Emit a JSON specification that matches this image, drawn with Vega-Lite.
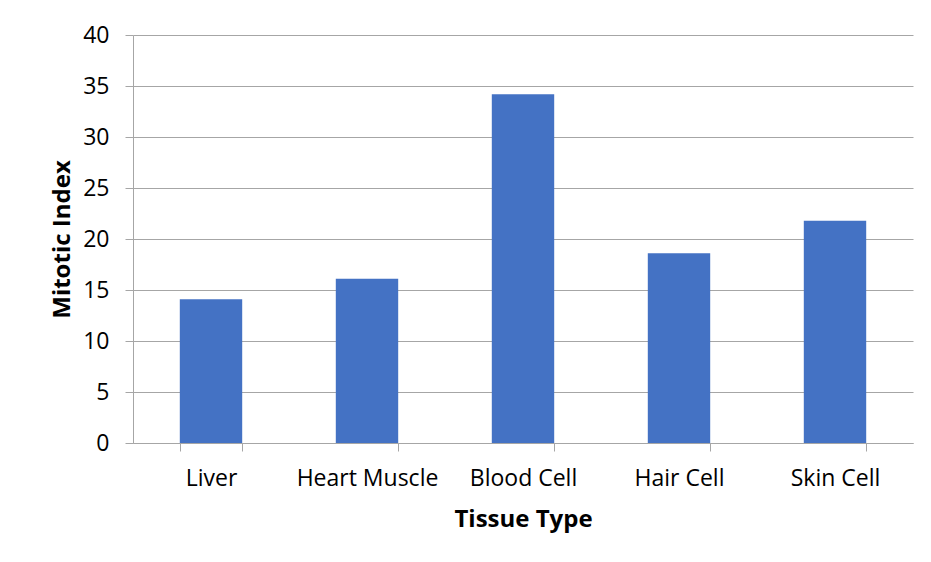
{
  "$schema": "https://vega.github.io/schema/vega-lite/v6.json",
  "width": 780,
  "height": 408,
  "autosize": {"type": "none"},
  "padding": {"left": 133, "top": 35, "right": 18, "bottom": 119},
  "background": "white",
  "data": {
    "values": [
      {"tissue": "Liver", "index": 14.1},
      {"tissue": "Heart Muscle", "index": 16.1},
      {"tissue": "Blood Cell", "index": 34.2},
      {"tissue": "Hair Cell", "index": 18.6},
      {"tissue": "Skin Cell", "index": 21.8}
    ]
  },
  "mark": {"type": "bar", "color": "#4472C4"},
  "encoding": {
    "x": {
      "field": "tissue",
      "type": "nominal",
      "sort": null,
      "scale": {"paddingInner": 0.6, "paddingOuter": 0.3},
      "axis": {
        "title": "Tissue Type",
        "labelAngle": 0,
        "tickBand": "extent",
        "tickSize": 8,
        "labelPadding": 16,
        "titlePadding": 17,
        "grid": false
      }
    },
    "y": {
      "field": "index",
      "type": "quantitative",
      "scale": {"domain": [0, 40]},
      "axis": {
        "title": "Mitotic Index",
        "values": [0, 5, 10, 15, 20, 25, 30, 35, 40],
        "tickSize": 8,
        "labelPadding": 16,
        "titlePadding": 8,
        "grid": true
      }
    }
  },
  "config": {
    "view": {"stroke": null},
    "axis": {
      "domainColor": "#a6a6a6",
      "tickColor": "#a6a6a6",
      "gridColor": "#a6a6a6",
      "domainWidth": 1,
      "gridWidth": 1,
      "tickWidth": 1,
      "labelFont": "Open Sans",
      "labelFontSize": 23,
      "labelColor": "#000000",
      "titleFont": "Open Sans",
      "titleFontSize": 24,
      "titleFontWeight": "bold",
      "titleColor": "#000000"
    }
  }
}
